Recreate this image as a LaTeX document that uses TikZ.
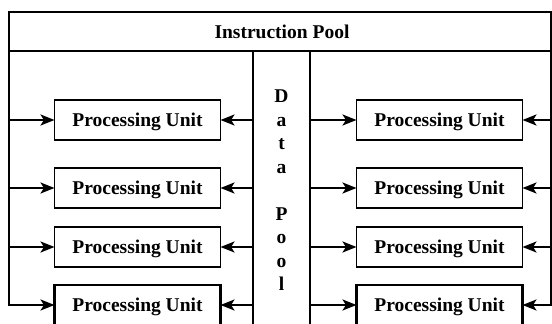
\documentclass[tikz,border=0pt]{standalone}
\usepackage{fontspec}
\setmainfont{Liberation Serif}
\usetikzlibrary{arrows.meta}
\begin{document}
\begin{tikzpicture}[x=1pt,y=-1pt,
  lbl/.style={font=\fontsize{19.5}{23.5}\selectfont\bfseries},
  unit/.style={lbl, draw, line width=1.6pt, minimum width=166pt, minimum height=40pt,
    inner sep=0pt, outer sep=0pt, text height=13.5pt, text depth=0pt},
  heavyunit/.style={unit, line width=2.8pt},
  frame/.style={draw, line width=2.5pt, inner sep=0pt, outer sep=0pt},
  bus/.style={line width=2.5pt},
  feed/.style={bus, -{Stealth[length=14pt,width=11pt,inset=3.5pt]}}]
  \useasboundingbox (0,0) rectangle (552,324);
  \clip (0,0) rectangle (552,324);

  % shared instruction pool across the top
  \node[frame, lbl, minimum width=542pt, minimum height=39pt, text height=13.5pt, text depth=0pt]
    (ipool) at (280,31.5) {\hspace*{4pt}Instruction Pool};

  % shared data pool in the middle column
  \node[frame, lbl, minimum width=57pt, minimum height=279pt, align=center] (dpool) at (281.5,190.5)
    {D\\a\\t\\a\\\mbox{}\\P\\o\\o\\l};

  % processing units, left and right columns
  \node[unit] (L1) at (137.5,120) {Processing Unit};
  \node[unit] (L2) at (137.5,188) {Processing Unit};
  \node[unit] (L3) at (137.5,247) {Processing Unit};
  \node[heavyunit] (L4) at (137.5,305) {Processing Unit};
  \node[unit] (R1) at (439.5,120) {Processing Unit};
  \node[unit] (R2) at (439.5,188) {Processing Unit};
  \node[unit] (R3) at (439.5,247) {Processing Unit};
  \node[heavyunit] (R4) at (439.5,305) {Processing Unit};

  % instruction buses down the outer edges
  \draw[feed] (ipool.south west) |- (L4.west);
  \draw[feed] (ipool.south east) |- (R4.east);
  \foreach \u in {L1,L2,L3} \draw[feed] (ipool.south west |- \u) -- (\u.west);
  \foreach \u in {R1,R2,R3} \draw[feed] (ipool.south east |- \u) -- (\u.east);

  % data paths out of the data pool
  \foreach \u in {L1,L2,L3,L4} \draw[feed] (dpool.west |- \u) -- (\u.east);
  \foreach \u in {R1,R2,R3,R4} \draw[feed] (dpool.east |- \u) -- (\u.west);
\end{tikzpicture}
\end{document}
